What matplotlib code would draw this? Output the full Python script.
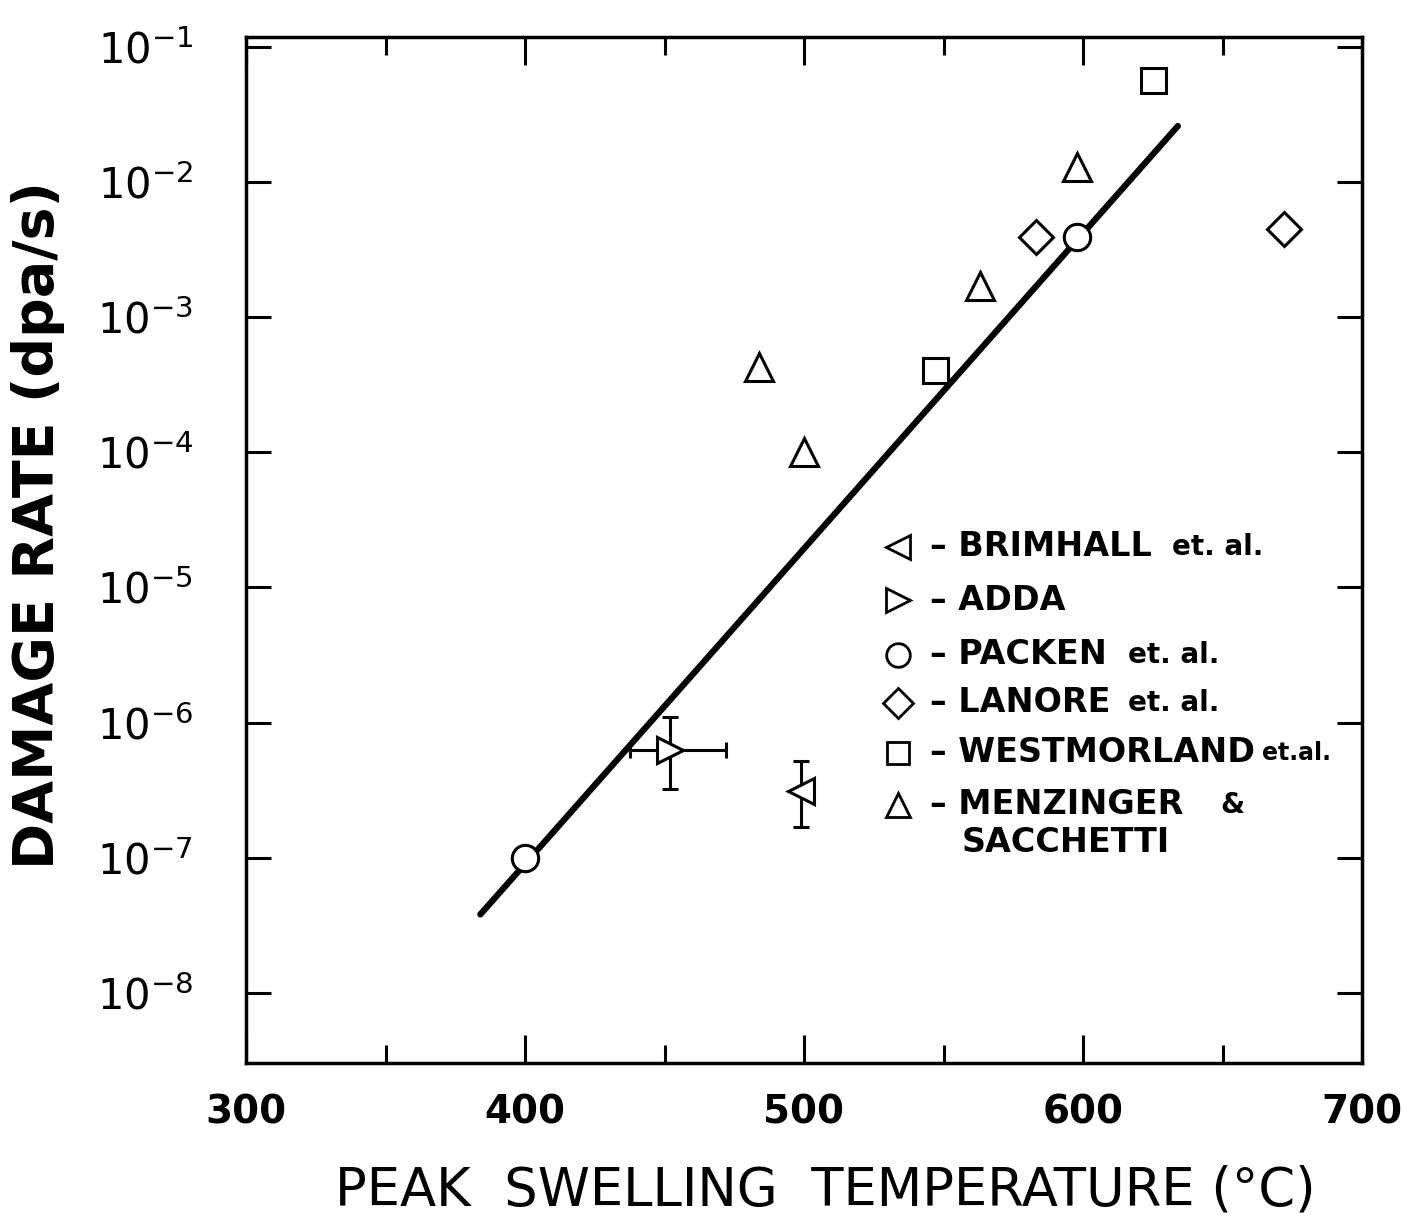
import matplotlib
matplotlib.use('Agg')
import matplotlib.pyplot as plt
from matplotlib.ticker import FixedLocator, FixedFormatter, NullFormatter

# ---------------- data ----------------
packen_T = [400, 598]
packen_rate = [1.0e-7, 3.9e-3]

lanore_T = [583, 672]
lanore_rate = [3.9e-3, 4.5e-3]

westmorland_T = [547, 625]
westmorland_rate = [4.1e-4, 5.7e-2]

menzinger_T = [484, 500, 563, 598]
menzinger_rate = [4.3e-4, 1.0e-4, 1.7e-3, 1.3e-2]

adda_T = [452]
adda_rate = [6.3e-7]
adda_T_low = [437.5]
adda_T_high = [472]
adda_rate_low = [3.2e-7]
adda_rate_high = [1.1e-6]

brimhall_T = [499]
brimhall_rate = [3.1e-7]
brimhall_rate_low = [1.7e-7]
brimhall_rate_high = [5.2e-7]

fit_T = [384, 634]
fit_rate = [3.8e-8, 2.6e-2]

x_major = [300, 400, 500, 600, 700]
x_minor = [350, 450, 550, 650]
y_ticks = [1e-8, 1e-7, 1e-6, 1e-5, 1e-4, 1e-3, 1e-2, 1e-1]
y_labels = [r'$10^{-8}$', r'$10^{-7}$', r'$10^{-6}$', r'$10^{-5}$',
            r'$10^{-4}$', r'$10^{-3}$', r'$10^{-2}$', r'$10^{-1}$']

legend_names = ['BRIMHALL', 'ADDA', 'PACKEN', 'LANORE', 'WESTMORLAND', 'MENZINGER']
legend_suffix = ['et. al.', '', 'et. al.', 'et. al.', 'et.al.', '&']

# ---------------- figure ----------------
plt.rcParams['mathtext.fontset'] = 'dejavusans'
plt.rcParams['mathtext.default'] = 'regular'
plt.rcParams['font.family'] = ['DejaVu Sans']

W, H = 1403, 1222
fig = plt.figure(figsize=(W / 100, H / 100), dpi=100)
L, R, T, B = 246, 1362, 37, 1063
ax = fig.add_axes([L / W, 1 - B / H, (R - L) / W, (B - T) / H])

ax.set_xscale('linear')
ax.set_yscale('log')
ax.set_xlim(300, 700)
ax.set_ylim(10 ** -8.52, 10 ** -0.926)

lw_marker = 2.2
ax.plot(fit_T, fit_rate, color='black', lw=4.5, solid_capstyle='round', zorder=2)

ax.plot(packen_T, packen_rate, ls='none', marker='o', ms=19, mfc='white',
        mec='black', mew=lw_marker, zorder=4)
ax.plot(lanore_T, lanore_rate, ls='none', marker='D', ms=17, mfc='white',
        mec='black', mew=lw_marker, zorder=4)
ax.plot(westmorland_T, westmorland_rate, ls='none', marker='s', ms=18, mfc='white',
        mec='black', mew=lw_marker, zorder=4)
ax.plot(menzinger_T, menzinger_rate, ls='none', marker='^', ms=20, mfc='white',
        mec='black', mew=lw_marker, zorder=4)

# ADDA with error bars
xerr = [[adda_T[0] - adda_T_low[0]], [adda_T_high[0] - adda_T[0]]]
yerr = [[adda_rate[0] - adda_rate_low[0]], [adda_rate_high[0] - adda_rate[0]]]
ax.errorbar(adda_T, adda_rate, xerr=xerr, yerr=yerr, fmt='none', ecolor='black',
            elinewidth=2.2, capsize=6, capthick=2.2, zorder=3)
ax.plot(adda_T, adda_rate, ls='none', marker='>', ms=19, mfc='white',
        mec='black', mew=lw_marker, zorder=4)

# BRIMHALL with error bars
yerr_b = [[brimhall_rate[0] - brimhall_rate_low[0]],
          [brimhall_rate_high[0] - brimhall_rate[0]]]
ax.errorbar(brimhall_T, brimhall_rate, yerr=yerr_b, fmt='none', ecolor='black',
            elinewidth=2.2, capsize=6, capthick=2.2, zorder=3)
ax.plot(brimhall_T, brimhall_rate, ls='none', marker='<', ms=19, mfc='white',
        mec='black', mew=lw_marker, zorder=4)

# ---------------- axes styling ----------------
for s in ax.spines.values():
    s.set_linewidth(2.5)

ax.xaxis.set_major_locator(FixedLocator(x_major))
ax.xaxis.set_minor_locator(FixedLocator(x_minor))
ax.xaxis.set_minor_formatter(NullFormatter())
ax.set_xticklabels([str(v) for v in x_major])
ax.yaxis.set_major_locator(FixedLocator(y_ticks))
ax.yaxis.set_major_formatter(FixedFormatter(y_labels))
ax.yaxis.set_minor_locator(FixedLocator([]))

ax.tick_params(axis='x', which='major', direction='in', length=20, width=2.2,
               top=True, bottom=True, pad=22, labelsize=28)
ax.tick_params(axis='x', which='minor', direction='in', length=13, width=2.2,
               top=True, bottom=True)
ax.tick_params(axis='y', which='major', direction='in', length=18, width=2.2,
               left=True, right=True, pad=38, labelsize=30)
for lab in ax.get_xticklabels():
    lab.set_fontweight('bold')

fig.text(38 / W, 1 - 525 / H, 'DAMAGE RATE (dpa/s)', rotation=90, ha='center',
         va='center', fontsize=40, fontweight='bold')
fig.text(825 / W, 1 - 1190 / H, 'PEAK  SWELLING  TEMPERATURE (°C)', ha='center',
         va='center', fontsize=38)

# ---------------- legend (hand-drawn style) ----------------
def axfrac(px, py):
    return (px - L) / (R - L), (B - py) / (B - T)

leg_markers = ['<', '>', 'o', 'D', 's', '^']
leg_ms = [17, 17, 17, 15, 16, 17]
row_y = [547, 600, 655, 703, 753, 805]
suffix_x = [1172, None, 1128, 1128, 1262, 1220]
for mk, ms, yy, name, suf, sx in zip(leg_markers, leg_ms, row_y, legend_names,
                                      legend_suffix, suffix_x):
    mx, my = axfrac(898, yy)
    ax.plot([mx], [my], transform=ax.transAxes, ls='none', marker=mk, ms=ms,
            mfc='white', mec='black', mew=2.0, clip_on=False, zorder=5)
    tx, ty = axfrac(930, yy)
    ax.text(tx, ty, '– ' + name, transform=ax.transAxes, ha='left', va='center',
            fontsize=24, fontweight='bold')
    if suf:
        sxf, _ = axfrac(sx, yy)
        ax.text(sxf, ty, suf, transform=ax.transAxes, ha='left', va='center',
                fontsize=20 if suf != 'et.al.' else 17, fontweight='bold')
tx, ty = axfrac(962, 842)
ax.text(tx, ty, 'SACCHETTI', transform=ax.transAxes, ha='left', va='center',
        fontsize=24, fontweight='bold')

fig.savefig('out.png', dpi=100, facecolor='white')
